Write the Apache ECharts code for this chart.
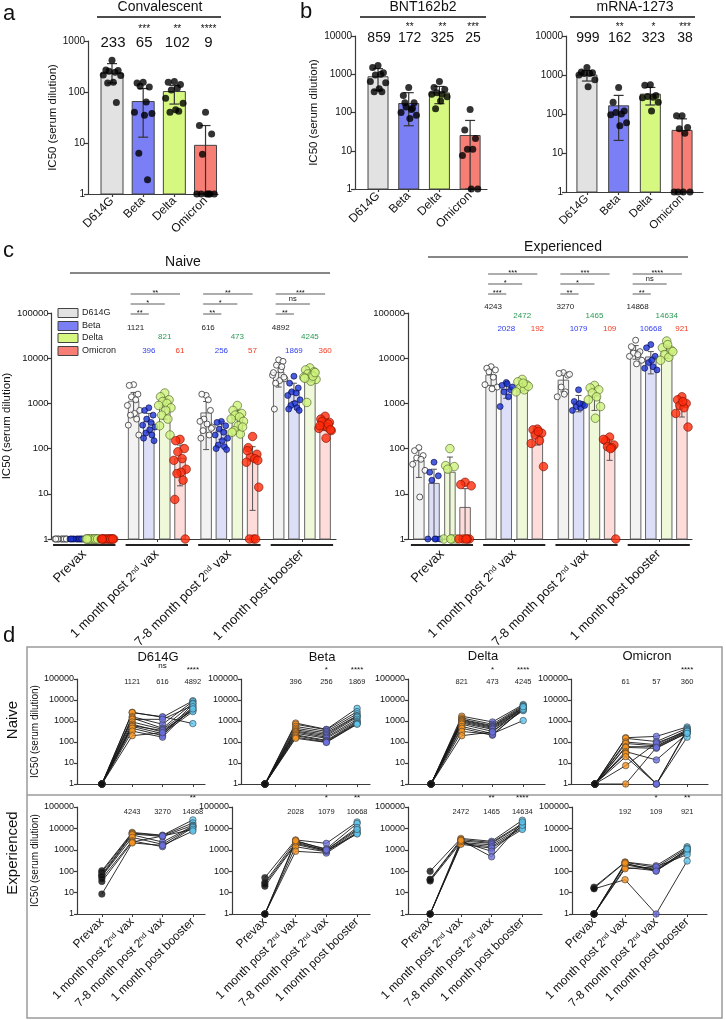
<!DOCTYPE html>
<html><head><meta charset="utf-8">
<script src="https://cdn.jsdelivr.net/npm/echarts@6/dist/echarts.min.js"></script>
<style>html,body{margin:0;padding:0;background:#fff}#c{width:726px;height:1020px}</style>
</head><body><div id="c"></div><script>
// ---------------- DATA ----------------
const variants = ['D614G','Beta','Delta','Omicron'];
const timepoints = ['Prevax','1 month post 2nd vax','7-8 month post 2nd vax','1 month post booster'];

// panel a : convalescent
const convMeans = [233,65,102,9];
const convStars = ['','***','**','****'];
const convErrors = [[150,360],[13,117],[58,135],[1,22]];
const convD614G = [420,270,265,255,245,215,210,155,150,62];
const convBeta = [155,150,125,130,64,40,38,35,6.3,1.9];
const convDelta = [160,155,140,110,120,75,60,45,40,42];
const convOmicron = [40,22,15,6,1,1,1,1,1,1];

// panel b : BNT162b2
const bntMeans = [859,172,325,25];
const bntStars = ['','**','**','***'];
const bntErrors = [[380,1400],[45,330],[170,480],[1,62]];
const bntD614G = [1700,1500,1100,950,1000,650,600,420,350,350];
const bntBeta = [450,280,180,140,120,100,85,70,180,130];
const bntDelta = [650,450,400,330,300,300,260,200,125];
const bntOmicron = [120,35,21,11,11,7.5,1,1];

// panel b : mRNA-1273
const modMeans = [999,162,323,38];
const modStars = ['','**','*','***'];
const modErrors = [[700,1300],[21,300],[170,480],[1,75]];
const modD614G = [1550,1200,1150,1100,1100,1000,750,500];
const modBeta = [480,200,120,110,100,95,60,50];
const modDelta = [560,550,300,280,270,260,200,120];
const modOmicron = [90,90,45,42,32,1,1,1,1];

// panels c/d : per-subject values [prevax, 1 month post 2nd, 7-8 month post 2nd, 1 month post booster]
const naiveD614G = [
  [1,1,1,1,1,1,1,1,1,1,1,1],
  [2600,2500,1600,1400,1200,900,700,600,550,450,330,200],
  [1500,1600,700,450,1200,400,300,350,250,200,170,280],
  [9200,750,8500,7000,5500,4200,3500,3200,2800,6500,4800,3800]
];
const naiveBeta = [
  [1,1,1,1,1,1,1,1,1,1,1,1],
  [800,700,550,450,380,330,300,260,220,200,170,150],
  [400,380,320,270,230,200,170,150,120,110,100,95],
  [4000,2800,2200,1800,1700,1500,1200,1000,900,800,750,700]
];
const naiveDelta = [
  [1,1,1,1,1,1,1,1,1,1,1,1],
  [1700,1400,1200,1100,1000,900,800,700,550,450,320,200],
  [900,700,600,550,500,450,400,320,250,210,230,300],
  [6100,5500,5000,4500,4200,3800,3400,3100,1050,4000,3600,4800]
];
const naiveOmicron = [
  [1,1,1,1,1,1,1,1,1,1,1,1],
  [160,150,100,85,60,55,35,30,28,20,7.5,1],
  [185,105,75,65,60,50,14,1,1,1,90,55],
  [520,450,380,330,300,280,250,170,400,350,320,260]
];
const expD614G = [
  [105,90,70,62,58,45,33,8.5],
  [6500,6000,5500,5000,3800,2600,2300,2100],
  [4800,4600,4200,2300,1800,1400,4400,1600],
  [25000,18000,14000,13000,12000,11000,9000,7500]
];
const expBeta = [
  [50,30,25,20,1,1,1,1],
  [2900,2500,2000,1800,1400,850,2300,2700],
  [2000,1100,950,850,800,700,900,1000],
  [20000,17000,11000,8000,6500,6000,5500,9000]
];
const expDelta = [
  [100,42,40,35,1,1,1,1],
  [3400,3000,2600,2200,2000,1800,2400,2800],
  [2500,2200,2000,1700,1400,1200,850,470],
  [24000,17000,15000,12000,10500,9000,14000,20000]
];
const expOmicron = [
  [18,16,1,1,1,1,15,1],
  [270,260,220,200,150,130,40,240],
  [180,150,120,110,105,160,1,100],
  [1400,1200,1000,900,800,600,300,1100]
];
// bar heights (variant x timepoint)
const naiveMeans = [[1,1121,616,4892],[1,396,256,1869],[1,821,473,4245],[1,61,57,360]];
const expMeans = [[55,4243,3270,14868],[17,2028,1079,10668],[30,2472,1465,14634],[5,192,109,921]];
const naiveErrors = [
  [null,[500,1750],[95,1100],[2300,7200]],
  [null,[230,600],[160,400],[1100,2800]],
  [null,[450,1300],[250,700],[3000,5500]],
  [null,[15,120],[4.3,110],[250,460]]
];
const expErrors = [
  [[23,95],[2500,6000],[1800,4700],[9500,19000]],
  [[1,35],[1300,2800],[650,1500],[4500,14000]],
  [[1,65],[1900,3000],[700,2200],[10000,18000]],
  [[1,13],[120,250],[55,160],[500,1300]]
];
// significance vs D614G (Beta, Delta, Omicron) per timepoint
const naiveBrackets = [null,['**','*','**'],['**','*','**'],['**','ns','***']];
const expBrackets = [null,['***','*','***'],['**','*','***'],['**','ns','****']];
// panel d significance per timepoint
const dNaiveStars = [['','','ns','****'],['','','*','****'],['','','*','****'],['','','','****']];
const dExpStars = [['','','','**'],['','','*','**'],['','','**','****'],['','','*','**']];

// ---------------- STYLE ----------------
const FONT = '"Liberation Sans", Arial, sans-serif';
const AX = '#3a3a3a';
const SOLID = ['#e2e2e2','#7b7ff6','#d6f780','#f77e75'];
const PALE = ['#f2f2f2','#dddff9','#eff9da','#fddcda'];
const NUMCOL = ['#222','#2f3ff0','#2a9a55','#f23a22'];
const TPCOL = ['#111','#f7931e','#6c70e0','#5cc6ef'];
const DOTSTYLE = [
  {color:'#fff', borderColor:'#333', borderWidth:1},
  {color:'#1b35d6', borderColor:'#0a0a40', borderWidth:0.8},
  {color:'#cdf27c', borderColor:'#4d5e28', borderWidth:0.8},
  {color:'#ff2a0a', borderColor:'#7a1000', borderWidth:0.8}
];
const DOTSIZE = [6, 6, 8.5, 8.5];
const JIT = [0,-0.7,0.7,-0.35,0.35,-1,1,0.15,-0.5,0.5,-0.85,0.85,-0.15];
const OFF = [-0.32,-0.11,0.11,0.32];

function merge(a,b){ const o=Object.assign({},a); for(const k in b){ const v=b[k]; if(v&&typeof v==='object'&&!Array.isArray(v)&&a[k]&&typeof a[k]==='object'&&!Array.isArray(a[k])) o[k]=merge(a[k],v); else o[k]=v; } return o; }

const chart = echarts.init(document.getElementById('c'), null, {renderer:'canvas', width:726, height:1020});
const grids=[], xAxes=[], yAxes=[], series=[];

function addGrid(box, xr, ymax, xOpts, yOpts){
  const gi=grids.length;
  grids.push({left:box[0], top:box[1], width:box[2], height:box[3]});
  xAxes.push(merge({type:'value', gridIndex:gi, min:xr[0], max:xr[1], splitLine:{show:false},
    axisLine:{show:true,onZero:false,lineStyle:{color:AX,width:1.2}},
    axisTick:{show:false}, axisLabel:{show:false}}, xOpts||{}));
  yAxes.push(merge({type:'log', logBase:10, gridIndex:gi, min:1, max:ymax, splitLine:{show:false}, minorTick:{show:false},
    axisLine:{show:true,onZero:false,lineStyle:{color:AX,width:1.2}},
    axisTick:{show:true,length:4,lineStyle:{color:AX,width:1.2}},
    axisLabel:{show:true,fontSize:10,color:'#111',fontFamily:FONT,margin:3,formatter:v=>String(Math.round(v))}}, yOpts||{}));
  return gi;
}
function yName(gap, fs){ return {name:'IC50 (serum dilution)', nameLocation:'middle', nameGap:gap, nameRotate:90,
  nameTextStyle:{fontSize:fs, fontFamily:FONT, color:'#111'}}; }
function barsSeries(gi, data, colors, w, stroke){
  return {type:'custom', xAxisIndex:gi, yAxisIndex:gi, z:2, silent:true, clip:false, encode:{x:0,y:1}, data,
    renderItem:(p,api)=>{ const x=api.value(0), v=api.value(1), ci=api.value(2);
      const t=api.coord([x,v]), b=api.coord([x,1]);
      return {type:'rect', shape:{x:t[0]-w/2, y:t[1], width:w, height:Math.max(0,b[1]-t[1])}, style:{fill:colors[ci], stroke, lineWidth:1}}; }};
}
function errSeries(gi, data, cap, color, lw){
  return {type:'custom', xAxisIndex:gi, yAxisIndex:gi, z:3, silent:true, clip:false, encode:{x:0,y:[1,2]}, data,
    renderItem:(p,api)=>{ const x=api.value(0);
      const a=api.coord([x,api.value(1)]), b=api.coord([x,api.value(2)]);
      const st={stroke:color,lineWidth:lw};
      return {type:'group', children:[
        {type:'line', shape:{x1:a[0],y1:a[1],x2:b[0],y2:b[1]}, style:st},
        {type:'line', shape:{x1:b[0]-cap/2,y1:b[1],x2:b[0]+cap/2,y2:b[1]}, style:st},
        {type:'line', shape:{x1:a[0]-cap/2,y1:a[1],x2:a[0]+cap/2,y2:a[1]}, style:st}]}; }};
}
function jitter(arr, x0, spread){ return arr.map((v,k)=>[x0+JIT[k%JIT.length]*spread, v]); }
function dotSeries(gi, data, style, size, z){
  return {type:'scatter', xAxisIndex:gi, yAxisIndex:gi, z:z||4, silent:true, clip:false, symbol:'circle', symbolSize:size, itemStyle:style, data};
}
const tpLabel = v => timepoints[Math.round(v)].replace('2nd','2{s|nd}');

// ---------- panels a / b ----------
function simplePanel(box, xr, ymax, means, errs, pts, barW, xfs, yOpts, spread){
  const gi=addGrid(box, xr, ymax, {
    axisTick:{show:true, customValues:[0,1,2,3], length:3, lineStyle:{color:AX,width:1.2}},
    axisLabel:{show:true, customValues:[0,1,2,3], formatter:v=>variants[Math.round(v)], rotate:45, fontSize:xfs, color:'#111', fontFamily:FONT, margin:5}
  }, yOpts);
  series.push(barsSeries(gi, means.map((m,i)=>[i,m,i]), SOLID, barW, '#444'));
  series.push(errSeries(gi, errs.map((e,i)=>[i,e[0],e[1]]), 10, '#333', 1.2));
  series.push(dotSeries(gi, pts.flatMap((arr,i)=>jitter(arr,i,spread)), {color:'#000'}, 7));
  return gi;
}
const giA = simplePanel([88,41,130,153], [-0.77,3.40], 1000, convMeans, convErrors,
  [convD614G,convBeta,convDelta,convOmicron], 22, 12, yName(27,11.5), 0.28);
const giB = simplePanel([355,36,132,153], [-0.75,3.55], 10000, bntMeans, bntErrors,
  [bntD614G,bntBeta,bntDelta,bntOmicron], 20, 12, yName(34,11.5), 0.25);
const giM = simplePanel([566,36,137,156], [-0.66,3.66], 10000, modMeans, modErrors,
  [modD614G,modBeta,modDelta,modOmicron], 20, 11.5, {}, 0.25);

// ---------- panel c ----------
function groupedPanel(box, xr, sets, means, errs, yOpts){
  const gi=addGrid(box, xr, 100000, {
    axisTick:{show:true, customValues:[0,1,2,3], length:3, lineStyle:{color:AX,width:1}},
    axisLabel:{show:true, customValues:[0,1,2,3], formatter:tpLabel, rotate:45, fontSize:13, color:'#111', fontFamily:FONT, margin:13,
      rich:{s:{fontSize:8, verticalAlign:'top', fontFamily:FONT, color:'#111'}}}
  }, merge({axisLabel:{fontSize:9.5}}, yOpts||{}));
  const bd=[]; means.forEach((row,v)=>row.forEach((m,g)=>bd.push([g+OFF[v],m,v])));
  series.push(barsSeries(gi, bd, PALE, 10.5, '#666'));
  const ed=[]; errs.forEach((row,v)=>row.forEach((e,g)=>{ if(e) ed.push([g+OFF[v],e[0],e[1]]); }));
  series.push(errSeries(gi, ed, 6, '#555', 1));
  sets.forEach((set,v)=>{ const d=[]; set.forEach((arr,g)=>d.push(...jitter(arr,g+OFF[v],0.085)));
    series.push(dotSeries(gi, d, DOTSTYLE[v], DOTSIZE[v], 4+v*0)); });
  return gi;
}
const giCN = groupedPanel([50,313,286,226], [-0.45,3.47], [naiveD614G,naiveBeta,naiveDelta,naiveOmicron], naiveMeans, naiveErrors, yName(35,11.5));
const giCE = groupedPanel([408,313,284,226], [-0.47,3.46], [expD614G,expBeta,expDelta,expOmicron], expMeans, expErrors, {});

// ---------- panel d ----------
function pairedPanel(box, xr, set, showX, yOpts){
  const xo={axisTick:{show:true, customValues:[0,1,2,3], length:3, lineStyle:{color:AX,width:1}}};
  if(showX) xo.axisLabel={show:true, customValues:[0,1,2,3], formatter:tpLabel, rotate:45, fontSize:12, color:'#111', fontFamily:FONT, margin:6,
      rich:{s:{fontSize:7.5, verticalAlign:'top', fontFamily:FONT, color:'#111'}}};
  const gi=addGrid(box, xr, 100000, xo, merge({axisLabel:{fontSize:9}, axisTick:{length:3}}, yOpts||{}));
  const n=set[0].length;
  for(let k=0;k<n;k++){
    series.push({type:'line', xAxisIndex:gi, yAxisIndex:gi, z:2, silent:true, showSymbol:false, symbol:'none',
      lineStyle:{color:'#1a1a1a', width:0.9}, data:set.map((arr,t)=>[t,arr[k]])});
  }
  const pts=[]; set.forEach((arr,t)=>arr.forEach(v=>pts.push({value:[t,v], itemStyle:{color:TPCOL[t]}})));
  series.push(dotSeries(gi, pts, {borderColor:'#333', borderWidth:0.7}, 6.5));
  return gi;
}
const dn = [
  pairedPanel([77,679,128,105], [-0.82,3.40], naiveD614G, false, yName(32,10)),
  pairedPanel([241,679,129,105], [-0.78,3.42], naiveBeta, false),
  pairedPanel([408,679,137,105], [-0.75,3.71], naiveDelta, false),
  pairedPanel([571,679,137,105], [-0.78,3.68], naiveOmicron, false)
];
const de = [
  pairedPanel([77,807,128,107], [-0.82,3.40], expD614G, true, yName(32,10)),
  pairedPanel([232,807,138,107], [-1.07,3.42], expBeta, true),
  pairedPanel([408,807,134,107], [-0.72,3.64], expDelta, true),
  pairedPanel([572,807,135,107], [-0.71,3.64], expOmicron, true)
];

chart.setOption({animation:false, backgroundColor:'#fff', grid:grids, xAxis:xAxes, yAxis:yAxes, series});

// ---------------- annotations ----------------
const G=[];
function T(x,y,s,fs,color,rot,align,va){ G.push({type:'text', x, y, rotation:rot||0, silent:true, z:10,
  style:{text:s, fontSize:fs, fontFamily:FONT, fill:color||'#111', align:align||'center', verticalAlign:va||'middle'}}); }
function L(x1,y1,x2,y2,w,c){ G.push({type:'line', silent:true, z:10, shape:{x1,y1,x2,y2}, style:{stroke:c||'#111', lineWidth:w||1}}); }
function px(gi,x,y){ return chart.convertToPixel({gridIndex:gi},[x,y]); }

// panel letters
T(3,25,'a',22,'#111',0,'left','bottom');
T(300,23,'b',22,'#111',0,'left','bottom');
T(3,262,'c',22,'#111',0,'left','bottom');
T(3,647,'d',22,'#111',0,'left','bottom');

// titles a/b
T(160,7,'Convalescent',14); L(97,17,221,17,1.5);
T(423,7,'BNT162b2',14); L(360,17,486,17,1.5);
T(635,7,'mRNA-1273',14); L(570,17,695,17,1.5);
[[giA,convMeans,convStars,43,29,15],[giB,bntMeans,bntStars,38,27,14],[giM,modMeans,modStars,38,27,14]].forEach(([gi,means,stars,yN,yS,fs])=>{
  means.forEach((m,i)=>{ const x=px(gi,i,1)[0]+ (i>1?3:1); T(x,yN,String(m),fs); if(stars[i]) T(x,yS,stars[i],10); });
});

// panel c
T(183,262,'Naive',14); L(70,273,330,273,1.2);
T(563,247,'Experienced',14); L(428,257,688,257,1.2);
function cAnn(gi, means, brackets, numY, brY){
  for(let g=0; g<4; g++){
    const a=px(gi,g-0.43,1)[0], b=px(gi,g+0.43,1)[0];
    L(a,545,b,545,1.8,'#222');
    if(g===0) continue;
    means.forEach((row,v)=>{ const x=px(gi,g+OFF[v],1)[0]+(v===0?2:0); T(x,numY[v],String(row[g]),8,NUMCOL[v]); });
    const x0=px(gi,g+OFF[0],1)[0]-3;
    brackets[g].forEach((s,j)=>{ const x1=px(gi,g+OFF[j+1],1)[0]; L(x0,brY[j],x1,brY[j],0.8,'#333');
      T((x0+x1)/2, brY[j]-(s==='ns'?5:1.5), s, 7.5); });
  }
}
cAnn(giCN, naiveMeans, naiveBrackets, [328,351,337,351], [314,304,294]);
cAnn(giCE, expMeans, expBrackets, [307,329,316,329], [294,284,274]);
// legend
[313,326,338,351].forEach((y,v)=>{
  G.push({type:'rect', silent:true, z:10, shape:{x:58,y:y-4.5,width:20,height:9}, style:{fill:SOLID[v], stroke:'#444', lineWidth:1}});
  T(82,y,variants[v],9,'#222',0,'left');
});

// panel d
G.push({type:'rect', silent:true, z:9, shape:{x:27,y:647,width:695,height:371}, style:{fill:'none', stroke:'#9a9a9a', lineWidth:1.5}});
L(27,795,722,795,1.5,'#9a9a9a');
T(13,720,'Naive',15,'#111',Math.PI/2);
T(13,853,'Experienced',15,'#111',Math.PI/2);
[[158,657],[322,657],[483,656],[647,656]].forEach((p,v)=>T(p[0],p[1],variants[v],13));
function dAnn(gis, means, stars, yN, yS){
  gis.forEach((gi,v)=>{
    for(let t=1;t<4;t++){
      const x=px(gi,t,1)[0];
      T(x,yN,String(means[v][t]),7.5,'#222');
      if(stars[v][t]) T(x,yS+(stars[v][t]==='ns'?-2:2),stars[v][t],8);
    }
  });
}
dAnn(dn, naiveMeans, dNaiveStars, 682, 668);
dAnn(de, expMeans, dExpStars, 812, 796);

chart.setOption({graphic:G});
</script></body></html>
